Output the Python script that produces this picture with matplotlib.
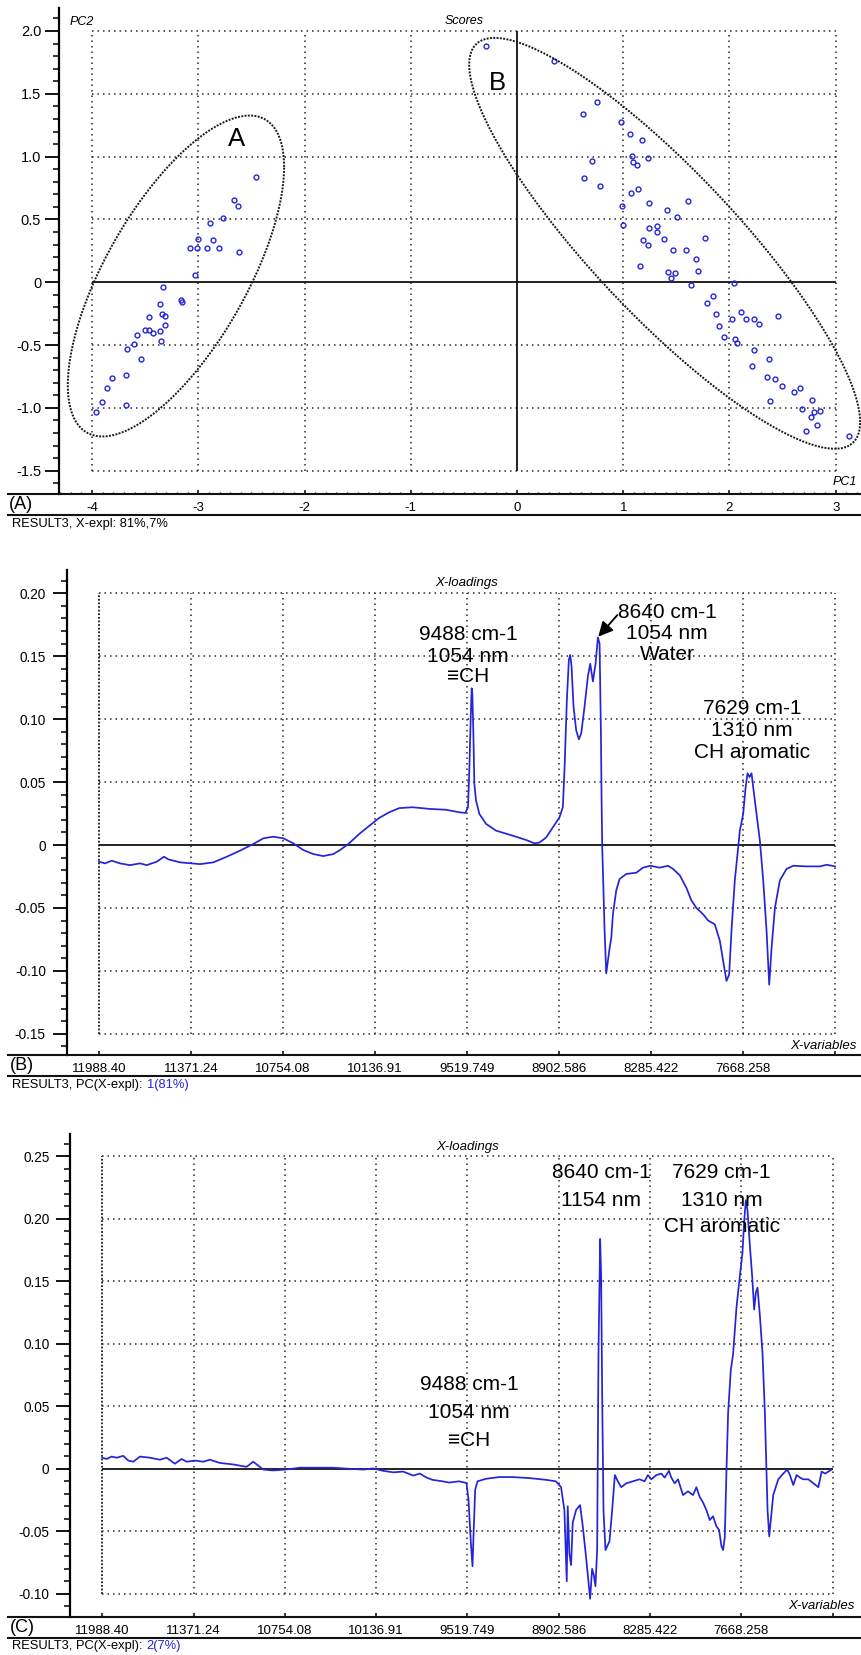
import numpy as np
import matplotlib
matplotlib.use("Agg")
import matplotlib.pyplot as plt
from matplotlib.lines import Line2D
from matplotlib.ticker import MultipleLocator

plt.rcParams['font.family'] = ['Liberation Sans', 'DejaVu Sans']

W, H = 861.0, 1655.0
BLUE = '#2424d8'
DOTS = (0, (1, 2.6))
GRID = '#2a2a2a'

# ---- scores (PC1 / PC2) ----
pc1_a = [-3.966, -3.903, -3.857, -3.816, -3.682, -3.679, -3.670, -3.604, -3.576,
         -3.536, -3.498, -3.461, -3.427, -3.464, -3.364, -3.349, -3.346, -3.315,
         -3.315, -3.361, -3.336, -3.162, -3.153, -3.031, -3.081, -3.016, -3.006,
         -2.922, -2.885, -2.860, -2.807, -2.766, -2.664, -2.626, -2.617, -2.452]
pc2_a = [-1.03, -0.95, -0.84, -0.76, -0.74, -0.98, -0.53, -0.49, -0.42,
         -0.61, -0.38, -0.38, -0.40, -0.28, -0.39, -0.47, -0.25, -0.27,
         -0.34, -0.17, -0.04, -0.14, -0.16, 0.06, 0.27, 0.27, 0.345,
         0.27, 0.47, 0.335, 0.27, 0.51, 0.655, 0.61, 0.24, 0.84]

pc1_b = [-0.288, 0.344, 0.754, 0.619, 0.976, 1.060, 1.173, 0.707, 1.082, 1.095,
         1.132, 1.232, 0.635, 0.779, 1.070, 1.139, 0.988, 1.242, 1.605, 1.408,
         1.505, 0.998, 1.242, 1.320, 1.320, 1.185, 1.236, 1.383, 1.770, 1.470,
         1.589, 1.154, 1.683, 1.708, 1.423, 1.489, 1.454, 1.639, 2.046, 1.849,
         1.786, 1.874, 2.111, 2.021, 2.158, 2.227, 2.280, 2.455, 1.905, 1.952,
         2.055, 2.074, 2.227, 2.371, 2.211, 2.349, 2.427, 2.496, 2.668, 2.609,
         2.377, 2.781, 2.687, 2.796, 2.853, 2.771, 2.828, 2.724, 3.122]
pc2_b = [1.883, 1.763, 1.437, 1.341, 1.277, 1.182, 1.134, 0.967, 1.009, 0.959,
         0.937, 0.988, 0.828, 0.767, 0.709, 0.746, 0.608, 0.635, 0.648, 0.574,
         0.520, 0.454, 0.433, 0.449, 0.401, 0.340, 0.300, 0.348, 0.353, 0.260,
         0.260, 0.133, 0.186, 0.088, 0.080, 0.074, 0.032, -0.021, -0.008, -0.106,
         -0.162, -0.255, -0.234, -0.295, -0.295, -0.289, -0.335, -0.268, -0.348, -0.435,
         -0.449, -0.481, -0.542, -0.608, -0.669, -0.757, -0.770, -0.828, -0.842, -0.876,
         -0.943, -0.935, -1.009, -1.036, -1.022, -1.070, -1.134, -1.182, -1.221]

# group ellipses: centre, half extents, phase
ell_a = dict(cx=-3.21, cy=0.05, xr=1.018, yr=1.277, phi=np.arccos(0.68))
ell_b = dict(cx=1.39, cy=0.31, xr=1.84, yr=1.635, phi=np.arccos(-0.87))

# ---- loadings PC1 ----
wn_pc1 = [11988.4, 11948.2, 11903.4, 11847.5, 11780.4, 11713.4, 11668.6, 11601.6, 11552.4,
          11523.3, 11445.0, 11366.8, 11310.9, 11221.4, 11131.0, 11042.5, 10953.1, 10886.0,
          10818.9, 10751.8, 10684.8, 10617.7, 10550.6, 10483.5, 10416.5, 10371.7, 10315.8,
          10237.5, 10148.1, 10108.9, 10041.7, 9974.5, 9884.9, 9772.9, 9660.9, 9571.3,
          9530.9, 9513.0, 9504.1, 9495.1, 9488.4, 9483.9, 9477.2, 9470.5, 9459.3, 9436.9,
          9392.0, 9324.8, 9212.8, 9123.2, 9067.2, 9033.6, 8988.8, 8944.0, 8899.2, 8876.8,
          8865.6, 8849.9, 8836.5, 8827.5, 8818.5, 8805.1, 8787.2, 8769.2, 8753.6, 8731.2,
          8708.8, 8693.1, 8675.2, 8657.3, 8641.6, 8630.4, 8621.4, 8616.9, 8612.5, 8605.8,
          8596.8, 8585.6, 8574.4, 8563.2, 8552.0, 8540.8, 8518.4, 8496.0, 8451.2, 8384.0,
          8339.2, 8290.0, 8227.2, 8171.2, 8137.6, 8092.9, 8048.1, 8014.5, 7980.9, 7936.1,
          7902.5, 7857.7, 7823.9, 7801.5, 7779.1, 7761.2, 7745.5, 7723.1, 7700.7, 7689.5,
          7667.1, 7651.4, 7638.0, 7624.5, 7611.1, 7599.9, 7577.5, 7555.1, 7532.7, 7510.3,
          7492.4, 7476.7, 7454.3, 7420.7, 7375.9, 7331.1, 7241.5, 7151.9, 7107.1, 7051.1]
load_pc1 = [-0.0133, -0.0146, -0.0125, -0.0146, -0.0160, -0.0146, -0.0160, -0.0133, -0.0093,
            -0.0114, -0.0138, -0.0146, -0.0152, -0.0138, -0.0093, -0.0045, 0.0008, 0.0053,
            0.0066, 0.0053, 0.0013, -0.0040, -0.0072, -0.0088, -0.0072, -0.0040, 0.0008,
            0.0093, 0.0178, 0.0215, 0.0260, 0.0293, 0.0300, 0.0287, 0.0280, 0.0260,
            0.0255, 0.0300, 0.0600, 0.1000, 0.1245, 0.1200, 0.0900, 0.0487, 0.0354, 0.0247,
            0.0168, 0.0114, 0.0074, 0.0040, 0.0013, 0.0020, 0.0060, 0.0140, 0.0220, 0.0300,
            0.0600, 0.1150, 0.1470, 0.1510, 0.1420, 0.1100, 0.0910, 0.0840, 0.0886, 0.1100,
            0.1340, 0.1440, 0.1300, 0.1440, 0.1650, 0.1600, 0.0890, 0.0350, -0.0020, -0.0300,
            -0.0680, -0.1020, -0.0920, -0.0820, -0.0740, -0.0550, -0.0360, -0.0270, -0.0230, -0.0220,
            -0.0180, -0.0165, -0.0180, -0.0165, -0.0190, -0.0240, -0.0340, -0.0440, -0.0500, -0.0550,
            -0.0600, -0.0630, -0.0760, -0.0920, -0.1080, -0.1030, -0.0680, -0.0280, -0.0020, 0.0114,
            0.0247, 0.0450, 0.0570, 0.0540, 0.0570, 0.0460, 0.0247, 0.0035, -0.0280, -0.0680,
            -0.1110, -0.0820, -0.0500, -0.0280, -0.0190, -0.0165, -0.0170, -0.0170, -0.0157, -0.0170]

# ---- loadings PC2 ----
wn_pc2 = [11988.4, 11959.1, 11925.3, 11891.5, 11846.5, 11812.7, 11778.9, 11733.9, 11666.3,
          11598.7, 11553.7, 11497.4, 11452.3, 11418.5, 11362.2, 11305.9, 11260.9, 11193.3,
          11103.3, 11013.2, 10968.1, 10934.3, 10900.5, 10833.0, 10749.7, 10652.8, 10540.2,
          10427.6, 10315.0, 10224.8, 10157.3, 10089.7, 10022.1, 9954.5, 9886.9, 9841.9, 9796.9,
          9756.4, 9688.8, 9643.7, 9576.1, 9526.5, 9513.0, 9497.2, 9485.9, 9476.9, 9467.9,
          9452.1, 9395.8, 9305.6, 9215.5, 9102.8, 8990.1, 8922.4,
          8887.3, 8864.8, 8848.9, 8842.2, 8830.9, 8819.6, 8808.3, 8785.7,
          8758.6, 8740.5, 8718.0, 8699.9, 8690.9, 8677.4, 8666.1, 8654.8,
          8643.4, 8634.4, 8623.1, 8616.3, 8609.5, 8600.5, 8587.0, 8575.7,
          8559.9, 8541.8, 8523.7, 8503.4, 8480.8, 8446.9, 8401.7, 8356.6,
          8322.7, 8300.1, 8277.5, 8243.6, 8209.8, 8187.2, 8157.8, 8142.0,
          8119.4, 8096.8, 8062.9, 8029.1, 7995.2, 7972.6, 7950.0, 7927.4,
          7904.8, 7882.3, 7859.7, 7837.1, 7819.0, 7803.2, 7791.9, 7780.6,
          7769.3, 7758.0, 7740.0, 7724.2, 7701.6, 7679.0, 7660.9, 7649.6,
          7638.3, 7627.0, 7611.2, 7595.4, 7581.9, 7570.6, 7559.3, 7543.5,
          7525.4, 7509.6, 7498.3, 7491.5, 7480.2, 7468.9, 7453.1, 7419.2,
          7385.3, 7358.2, 7340.2, 7317.6, 7295.0, 7272.4, 7249.8, 7215.9,
          7182.1, 7148.2, 7125.6, 7103.0, 7080.5, 7057.9]
load_pc2 = [0.0089, 0.0079, 0.0098, 0.0089, 0.0104, 0.0066, 0.0057, 0.0098, 0.0089,
            0.0073, 0.0089, 0.0041, 0.0079, 0.0057, 0.0066, 0.0057, 0.0073, 0.0047,
            0.0035, 0.0016, 0.0057, 0.0025, -0.0006, -0.0013, -0.0006, 0.0009, 0.0009,
            0.0009, 0.0000, -0.0006, 0.0003, -0.0016, -0.0028, -0.0022, -0.0054, -0.0038, -0.0070,
            -0.0088, -0.0100, -0.0110, -0.0100, -0.0114, -0.0247, -0.0590, -0.0780, -0.0460, -0.0168,
            -0.0100, -0.0080, -0.0066, -0.0066, -0.0074, -0.0088, -0.0100,
            -0.0147, -0.033, -0.090, -0.030, -0.068, -0.077, -0.043, -0.033,
            -0.029, -0.046, -0.071, -0.093, -0.104, -0.080, -0.085, -0.094,
            -0.065, 0.0916, 0.184, 0.154, 0.060, -0.033, -0.065, -0.062,
            -0.058, -0.033, -0.005, -0.010, -0.0147, -0.0116, -0.010, -0.0084,
            -0.010, -0.005, -0.0084, -0.005, -0.0038, -0.007, -0.0016, -0.007,
            -0.0116, -0.0084, -0.021, -0.018, -0.021, -0.0147, -0.0225, -0.027,
            -0.033, -0.041, -0.038, -0.046, -0.049, -0.062, -0.065, -0.055,
            -0.002, 0.045, 0.079, 0.092, 0.129, 0.154, 0.173, 0.198,
            0.215, 0.207, 0.179, 0.154, 0.1275, 0.141, 0.145, 0.123,
            0.092, 0.045, -0.002, -0.033, -0.054, -0.040, -0.021, -0.0084,
            -0.0038, -0.0006, -0.005, -0.013, -0.005, -0.007, -0.0084, -0.0084,
            -0.0116, -0.0147, -0.0022, -0.0038, -0.0022, -0.0006]

# ---- ticks ----
score_xt = [-4, -3, -2, -1, 0, 1, 2, 3]
score_yt = [2.0, 1.5, 1.0, 0.5, 0.0, -0.5, -1.0, -1.5]
score_ylab = ['2.0', '1.5', '1.0', '0.5', '0', '-0.5', '-1.0', '-1.5']
wn_ticks = [11988.40, 11371.24, 10754.08, 10136.91, 9519.749, 8902.586, 8285.422, 7668.258, 7051.094]
wn_labels = ['11988.40', '11371.24', '10754.08', '10136.91', '9519.749', '8902.586',
             '8285.422', '7668.258', '']
pc1_yt = [0.20, 0.15, 0.10, 0.05, 0.0, -0.05, -0.10, -0.15]
pc2_yt = [0.25, 0.20, 0.15, 0.10, 0.05, 0.0, -0.05, -0.10]


def ylab(v):
    return '0' if v == 0 else '%.2f' % v


fig = plt.figure(figsize=(W / 100, H / 100), dpi=100)


def px_axes(left, top, right, bottom):
    return fig.add_axes([left / W, 1 - bottom / H, (right - left) / W, (bottom - top) / H])


def ftext(x, y, s, **kw):
    return fig.text(x / W, 1 - y / H, s, **kw)


def hline_px(y, x0=8, x1=W, lw=1.5):
    fig.add_artist(Line2D([x0 / W, x1 / W], [1 - y / H] * 2, color='#111111', lw=lw))


def style_axes(ax, ysize=10, ypad=3):
    for s in ('top', 'right', 'bottom'):
        ax.spines[s].set_visible(False)
    ax.spines['left'].set_linewidth(1.6)
    ax.tick_params(axis='y', which='major', direction='out', length=10, width=1.3,
                   pad=ypad, labelsize=ysize)
    ax.tick_params(axis='y', which='minor', direction='out', length=4.3, width=1.1)
    ax.tick_params(axis='x', which='major', direction='in', length=3, width=1.1,
                   pad=6, labelsize=9.5)
    ax.tick_params(axis='x', which='minor', direction='in', length=1.8, width=0.9)
    ax.patch.set_alpha(0)


def ellipse(ax, p):
    t = np.linspace(0, 2 * np.pi, 400)
    x = p['cx'] + p['xr'] * np.cos(t)
    y = p['cy'] + p['yr'] * np.cos(t - p['phi'])
    ax.plot(x, y, color='#1a1a1a', lw=1.4, ls=(0, (1, 0.7)), clip_on=False)


def multiline(cx, y0, step, lines, size=15):
    for i, s in enumerate(lines):
        ftext(cx, y0 + i * step, s, ha='center', va='center', fontsize=size)


# ================= (A) scores =================
axA = px_axes(59.3, 8, W, 494)
style_axes(axA, ysize=10.5)
axA.set_xlim(-4.308, 3.238)
axA.set_ylim(-1.685, 2.183)
axA.set_xticks(score_xt, [str(v) for v in score_xt])
axA.set_yticks(score_yt, score_ylab)
axA.xaxis.set_minor_locator(MultipleLocator(0.1))
axA.yaxis.set_minor_locator(MultipleLocator(0.1))
axA.vlines([v for v in score_xt if v != 0], score_yt[-1], score_yt[0],
           colors=GRID, linestyles=[DOTS], lw=1.1)
axA.hlines([v for v in score_yt if v != 0], score_xt[0], score_xt[-1],
           colors=GRID, linestyles=[DOTS], lw=1.1)
axA.hlines(0, score_xt[0], score_xt[-1], colors='#111111', lw=1.3)
axA.vlines(0, score_yt[-1], score_yt[0], colors='#111111', lw=1.3)
axA.plot(pc1_a, pc2_a, 'o', mfc='none', mec=BLUE, ms=3.5, mew=1.0)
axA.plot(pc1_b, pc2_b, 'o', mfc='none', mec=BLUE, ms=3.5, mew=1.0, clip_on=False)
ellipse(axA, ell_a)
ellipse(axA, ell_b)

ftext(70, 21.7, 'PC2', style='italic', fontsize=9, va='center')
ftext(464, 20.7, 'Scores', style='italic', fontsize=9, ha='center', va='center')
ftext(857, 482, 'PC1', style='italic', fontsize=9, ha='right', va='center')
ftext(236.7, 139, 'A', fontsize=18.5, ha='center', va='center')
ftext(497.5, 83, 'B', fontsize=18.5, ha='center', va='center')

hline_px(494)
hline_px(515)
ftext(21, 504.5, '(A)', fontsize=13, ha='center', va='center')
ftext(12, 524, 'RESULT3, X-expl: 81%,7%', fontsize=9.3, va='center')

# ================= (B) PC1 loadings =================
axB = px_axes(66.7, 570, W, 1055)
style_axes(axB, ysize=9.8, ypad=5)
axB.set_xlim(12205.1, 6876.7)
axB.set_ylim(-0.16685, 0.2185)
axB.set_xticks(wn_ticks, wn_labels)
axB.set_yticks(pc1_yt, [ylab(v) for v in pc1_yt])
axB.yaxis.set_minor_locator(MultipleLocator(0.01))
axB.vlines(wn_ticks[1:], pc1_yt[-1], pc1_yt[0], colors=GRID, linestyles=[DOTS], lw=1.1)
axB.vlines(wn_ticks[0], pc1_yt[-1], pc1_yt[0], colors='#1a1a1a', linestyles=[(0, (1, 1))], lw=1.3)
axB.hlines([v for v in pc1_yt if v != 0], wn_ticks[0], wn_ticks[-1],
           colors=GRID, linestyles=[DOTS], lw=1.1)
axB.hlines(0, wn_ticks[0], wn_ticks[-1], colors='#111111', lw=1.3)
axB.plot(wn_pc1, load_pc1, color=BLUE, lw=1.25)

ftext(467, 582.7, 'X-loadings', style='italic', fontsize=9.5, ha='center', va='center')
ftext(857, 1046, 'X-variables', style='italic', fontsize=9.5, ha='right', va='center')
multiline(468, 635, 21, ['9488 cm-1', '1054 nm', '\u2261CH'])
multiline(667, 613, 21, ['8640 cm-1', '1054 nm', 'Water'])
multiline(752, 709, 22, ['7629 cm-1', '1310 nm', 'CH aromatic'])
axB.annotate('', xy=(8639, 0.1655), xytext=(8511, 0.1827),
             arrowprops=dict(arrowstyle='-|>', color='k', lw=1.3, mutation_scale=22,
                             shrinkA=0, shrinkB=0))

hline_px(1055)
hline_px(1076)
ftext(22, 1065.5, '(B)', fontsize=13, ha='center', va='center')
tB = ftext(12, 1085, 'RESULT3, PC(X-expl):', fontsize=9.3, va='center')
axB.annotate('1(81%)', xy=(1, 0.5), xycoords=tB, xytext=(3, 0), textcoords='offset points',
             va='center', ha='left', fontsize=9.3, color=BLUE, annotation_clip=False)

# ================= (C) PC2 loadings =================
axC = px_axes(70.3, 1134, W, 1616.5)
style_axes(axC, ysize=9.8, ypad=5)
axC.set_xlim(12204.7, 6859.8)
axC.set_ylim(-0.1182, 0.268)
axC.set_xticks(wn_ticks, wn_labels)
axC.set_yticks(pc2_yt, [ylab(v) for v in pc2_yt])
axC.yaxis.set_minor_locator(MultipleLocator(0.01))
axC.vlines(wn_ticks[1:], pc2_yt[-1], pc2_yt[0], colors=GRID, linestyles=[DOTS], lw=1.1)
axC.vlines(wn_ticks[0], pc2_yt[-1], pc2_yt[0], colors='#1a1a1a', linestyles=[(0, (1, 1))], lw=1.3)
axC.hlines([v for v in pc2_yt if v != 0], wn_ticks[0], wn_ticks[-1],
           colors=GRID, linestyles=[DOTS], lw=1.1)
axC.hlines(0, wn_ticks[0], wn_ticks[-1], colors='#111111', lw=1.3)
axC.plot(wn_pc2, load_pc2, color=BLUE, lw=1.25)

ftext(467.3, 1146.7, 'X-loadings', style='italic', fontsize=9.5, ha='center', va='center')
ftext(855, 1606, 'X-variables', style='italic', fontsize=9.5, ha='right', va='center')
multiline(601, 1173, 27, ['8640 cm-1', '1154 nm'])
multiline(721.7, 1173, 27, ['7629 cm-1', '1310 nm', 'CH aromatic'])
multiline(469.3, 1385, 27.5, ['9488 cm-1', '1054 nm', '\u2261CH'])

hline_px(1616.5)
hline_px(1637.5)
ftext(22, 1627, '(C)', fontsize=13, ha='center', va='center')
tC = ftext(12, 1646.5, 'RESULT3, PC(X-expl):', fontsize=9.3, va='center')
axC.annotate('2(7%)', xy=(1, 0.5), xycoords=tC, xytext=(3, 0), textcoords='offset points',
             va='center', ha='left', fontsize=9.3, color=BLUE, annotation_clip=False)

fig.savefig('out.png', dpi=100)
